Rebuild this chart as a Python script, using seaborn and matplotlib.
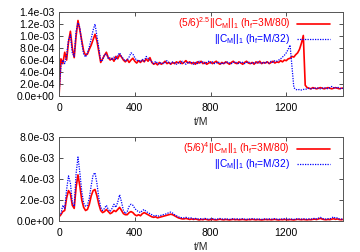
import numpy as np
import pandas as pd
import seaborn as sns
import matplotlib.pyplot as plt
from matplotlib.ticker import FormatStrFormatter, MultipleLocator

# ===== data (t step of 10 M) =====
t = np.arange(0, 1501, 10)

# top panel, units of 1e-4
top_red = [
    0.0, 6.2, 5.4, 7.3, 6.0, 9.0, 10.8, 8.0, 6.4, 10.0,
    12.6, 11.0, 9.2, 7.5, 6.8, 7.0, 7.8, 8.5, 9.4, 10.3,
    9.2, 7.4, 5.6, 6.2, 6.8, 7.3, 6.4, 6.0, 6.3, 5.8,
    6.6, 6.2, 6.9, 6.5, 6.0, 5.7, 6.1, 5.6, 6.0, 6.3,
    5.8, 5.5, 5.9, 5.6, 6.0, 5.7, 6.2, 5.8, 6.4, 5.6,
    5.3, 5.5, 5.2, 5.6, 5.3, 5.5, 5.8, 5.4, 5.6, 5.3,
    5.6, 5.4, 5.7, 5.5, 5.8, 5.4, 5.6, 5.9, 5.5, 5.7,
    5.4, 5.6, 5.3, 5.7, 5.5, 5.8, 5.4, 5.6, 5.3, 5.5,
    5.7, 5.4, 5.6, 5.8, 5.5, 5.3, 5.6, 5.4, 5.7, 5.5,
    5.3, 5.6, 5.8, 5.5, 5.4, 5.7, 5.5, 5.3, 5.6, 5.8,
    5.5, 5.4, 5.6, 5.3, 5.7, 5.5, 5.8, 5.4, 5.6, 5.5,
    5.7, 5.4, 5.6, 5.8, 5.5, 5.7, 5.6, 5.9, 5.7, 6.0,
    5.9, 6.2, 6.3, 6.6, 6.5, 6.9, 7.2, 7.8, 8.8, 10.1,
    1.8, 1.4, 1.3, 1.2, 1.4, 1.3, 1.2, 1.3, 1.4, 1.3,
    1.2, 1.3, 1.4, 1.3, 1.2, 1.3, 1.4, 1.3, 1.2, 1.3,
    1.3,
]
top_blue = [
    0.3, 5.0, 6.0, 5.4, 6.8, 9.4, 10.2, 7.2, 6.6, 10.8,
    12.2, 11.4, 8.8, 7.0, 6.5, 7.2, 8.2, 9.6, 11.0, 12.0,
    10.0, 8.0, 5.8, 6.0, 6.9, 7.0, 6.2, 6.4, 6.0, 6.5,
    6.0, 6.8, 7.2, 6.6, 6.2, 5.8, 6.0, 6.5, 7.2, 7.0,
    6.4, 5.9, 6.0, 5.7, 6.1, 5.8, 6.6, 6.3, 6.0, 5.7,
    5.4, 5.8, 5.5, 5.3, 5.6, 5.4, 5.6, 5.9, 5.5, 5.4,
    5.7, 5.5, 5.3, 5.6, 5.4, 5.8, 5.5, 5.3, 5.7, 5.5,
    5.6, 5.3, 5.6, 5.4, 5.8, 5.5, 5.7, 5.4, 5.6, 5.8,
    5.5, 5.7, 5.4, 5.5, 5.7, 5.5, 5.3, 5.6, 5.5, 5.7,
    5.5, 5.4, 5.6, 5.7, 5.5, 5.4, 5.7, 5.6, 5.4, 5.6,
    5.7, 5.5, 5.4, 5.6, 5.5, 5.7, 5.5, 5.6, 5.4, 5.7,
    5.6, 5.5, 5.8, 5.6, 5.9, 5.8, 6.0, 6.2, 6.5, 6.8,
    7.2, 7.8, 8.5, 5.0, 1.4, 1.1, 1.0, 1.1, 1.0, 1.1,
    1.1, 1.2, 1.3, 1.2, 1.3, 1.2, 1.4, 1.3, 1.2, 1.3,
    1.4, 1.3, 1.2, 1.4, 1.6, 1.4, 1.3, 1.5, 1.3, 1.2,
    1.3,
]

# bottom panel, units of 1e-3
bot_red = [
    0.4, 0.6, 0.9, 1.0, 2.2, 2.9, 2.6, 1.5, 1.2, 3.2,
    4.4, 3.3, 2.0, 1.3, 1.0, 1.1, 1.6, 2.4, 2.9, 3.0,
    2.4, 1.6, 1.0, 0.8, 0.9, 1.1, 0.9, 0.7, 0.8, 1.0,
    0.9, 1.1, 1.3, 1.0, 0.7, 0.6, 0.6, 0.8, 0.9, 0.8,
    0.6, 0.5, 0.6, 0.5, 0.7, 0.8, 0.7, 0.6, 0.5, 0.4,
    0.35, 0.4, 0.3, 0.35, 0.4, 0.45, 0.5, 0.55, 0.6, 0.65,
    0.6, 0.5, 0.4, 0.3, 0.25, 0.2, 0.2, 0.25, 0.2, 0.15,
    0.2, 0.15, 0.2, 0.15, 0.1, 0.15, 0.12, 0.18, 0.14, 0.1,
    0.13, 0.16, 0.12, 0.1, 0.14, 0.17, 0.13, 0.11, 0.15, 0.12,
    0.1, 0.13, 0.16, 0.12, 0.14, 0.11, 0.13, 0.15, 0.12, 0.1,
    0.14, 0.12, 0.16, 0.13, 0.11, 0.14, 0.12, 0.1, 0.13, 0.15,
    0.12, 0.14, 0.11, 0.13, 0.16, 0.12, 0.1, 0.14, 0.12, 0.15,
    0.13, 0.11, 0.14, 0.12, 0.1, 0.13, 0.16, 0.14, 0.12, 0.15,
    0.13, 0.11, 0.14, 0.12, 0.16, 0.18, 0.14, 0.2, 0.25, 0.18,
    0.14, 0.12, 0.15, 0.13, 0.18, 0.22, 0.16, 0.2, 0.14, 0.12,
    0.15,
]
bot_blue = [
    0.5, 0.7, 1.5, 1.2, 3.0, 4.3, 3.6, 1.8, 1.4, 4.5,
    6.1, 4.6, 2.8, 1.7, 1.4, 1.5, 2.2, 3.4, 4.4, 4.6,
    3.6, 2.2, 1.3, 1.0, 1.2, 1.5, 1.1, 0.9, 1.2, 1.6,
    1.3, 1.8, 2.5, 1.8, 1.0, 0.7, 0.9, 1.4, 1.6, 1.5,
    1.2, 1.0, 0.9, 0.8, 1.0, 1.1, 0.9, 0.8, 0.7, 0.6,
    0.5, 0.55, 0.45, 0.5, 0.55, 0.6, 0.65, 0.7, 0.8, 0.85,
    0.75, 0.6, 0.5, 0.4, 0.35, 0.3, 0.3, 0.35, 0.3, 0.25,
    0.3, 0.2, 0.25, 0.2, 0.2, 0.22, 0.18, 0.25, 0.2, 0.17,
    0.2, 0.23, 0.18, 0.16, 0.2, 0.24, 0.19, 0.17, 0.21, 0.18,
    0.16, 0.2, 0.23, 0.18, 0.2, 0.17, 0.19, 0.22, 0.18, 0.16,
    0.2, 0.18, 0.22, 0.19, 0.17, 0.2, 0.18, 0.16, 0.19, 0.21,
    0.18, 0.2, 0.17, 0.19, 0.22, 0.18, 0.16, 0.2, 0.18, 0.21,
    0.19, 0.17, 0.2, 0.18, 0.16, 0.19, 0.22, 0.2, 0.18, 0.21,
    0.19, 0.17, 0.2, 0.18, 0.22, 0.26, 0.2, 0.28, 0.35, 0.25,
    0.2, 0.18, 0.22, 0.2, 0.3, 0.4, 0.25, 0.3, 0.2, 0.18,
    0.2,
]

top_labels = ['(5/6)$^{2.5}$||C$_M$||$_1$ (h$_f$=3M/80)', '||C$_M$||$_1$ (h$_f$=M/32)']
bot_labels = ['(5/6)$^{4}$||C$_M$||$_1$ (h$_f$=3M/80)', '||C$_M$||$_1$ (h$_f$=M/32)']

# ===== style =====
sns.set_style('ticks')
plt.rcParams['font.family'] = ['Liberation Sans', 'DejaVu Sans']
plt.rcParams['mathtext.default'] = 'regular'
plt.rcParams['font.size'] = 7.5


def panel(ax, red, blue, scale, ymax, ystep, labels):
    sns.lineplot(x=t, y=np.array(red) * scale, ax=ax, color='#ff0000', lw=1.2, label=labels[0])
    sns.lineplot(x=t, y=np.array(blue) * scale, ax=ax, color='#0000ff', lw=0.9,
                 ls=(0, (1, 1)), label=labels[1])
    ax.set_xlim(0, 1500)
    ax.set_ylim(0, ymax)
    ax.xaxis.set_major_locator(MultipleLocator(400))
    ax.yaxis.set_major_locator(MultipleLocator(ystep))
    ax.yaxis.set_major_formatter(FormatStrFormatter('%.1e'))
    ax.tick_params(direction='in', top=True, right=True, length=3, width=0.6,
                   labelsize=7.5, pad=3, colors='#333333', labelcolor='black')
    ax.tick_params(axis='x', pad=5)
    for s in ax.spines.values():
        s.set_linewidth(0.7)
        s.set_color('#555555')
    ax.set_xlabel('t/M', fontsize=7.5, labelpad=3)
    ax.set_ylabel('')
    ax.legend(loc='upper right', bbox_to_anchor=(0.96, 0.985), frameon=False,
              markerfirst=False, fontsize=7.3, handlelength=3.2, handletextpad=0.7,
              labelspacing=0.1, borderaxespad=0.0, borderpad=0.2,
              labelcolor='linecolor')


fig = plt.figure(figsize=(3.6, 2.52), dpi=100)
ax1 = fig.add_axes([0.164, 0.619, 0.789, 0.333])
ax2 = fig.add_axes([0.164, 0.123, 0.789, 0.333])

panel(ax1, top_red, top_blue, 1e-4, 1.4e-3, 2e-4, top_labels)
panel(ax2, bot_red, bot_blue, 1e-3, 8e-3, 2e-3, bot_labels)

fig.savefig('out.png', dpi=100)
